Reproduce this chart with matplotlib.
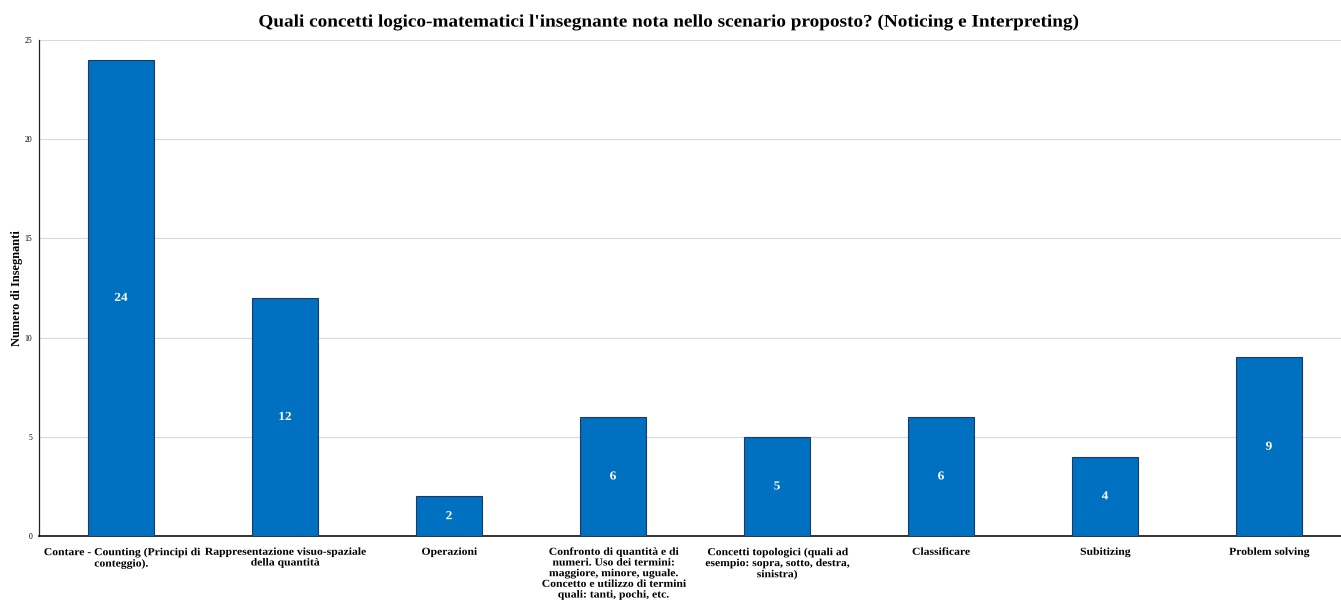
import matplotlib
matplotlib.use("Agg")
import matplotlib.pyplot as plt
from matplotlib.path import Path
from matplotlib.patheffects import AbstractPathEffect
from matplotlib.transforms import Affine2D

categories = [
    "Contare - Counting (Principi di\nconteggio).",
    "Rappresentazione visuo-spaziale\ndella quantità",
    "Operazioni",
    "Confronto di quantità e di\nnumeri. Uso dei termini:\nmaggiore, minore, uguale.\nConcetto e utilizzo di termini\nquali: tanti, pochi, etc.",
    "Concetti topologici (quali ad\nesempio: sopra, sotto, destra,\nsinistra)",
    "Classificare",
    "Subitizing",
    "Problem solving",
]
values = [24, 12, 2, 6, 5, 6, 4, 9]
y_ticks = [0, 5, 10, 15, 20, 25]


class WidenX(AbstractPathEffect):
    """Draw each text line widened horizontally about its own centre."""

    def __init__(self, sx):
        super().__init__()
        self.sx = sx

    def draw_path(self, renderer, gc, tpath, affine, rgbFace=None):
        verts = tpath.vertices
        codes = tpath.codes
        if codes is not None:
            verts = verts[codes != Path.CLOSEPOLY]
        if len(verts):
            pts = affine.transform(verts)
            cx = 0.5 * (pts[:, 0].min() + pts[:, 0].max())
            affine = affine + Affine2D().translate(-cx, 0).scale(self.sx, 1).translate(cx, 0)
        renderer.draw_path(gc, tpath, affine, rgbFace)


widen = [WidenX(1.09)]

plt.rcParams["font.family"] = ["Liberation Serif", "DejaVu Serif"]

fig = plt.figure(figsize=(13.41, 6.04), dpi=100)
ax = fig.add_axes([39 / 1341, 1 - 536 / 604, (1351 - 39) / 1341, (536 - 40) / 604])

x = list(range(len(categories)))
ax.bar(x, values, width=0.4, color="#0070C0", edgecolor="#1F3864",
       linewidth=0.8, zorder=3)

for xi, v in zip(x, values):
    ax.text(xi, v / 2, str(v), ha="center", va="center", color="white",
            fontsize=8.8, fontweight="bold", zorder=4, path_effects=widen)

ax.set_xlim(-0.5, 7.5)
ax.set_ylim(0, 25)
ax.set_yticks(y_ticks)
ax.set_yticklabels([str(t) for t in y_ticks], fontsize=5.5)
ax.set_xticks(x)
ax.set_xticklabels(categories, fontsize=7.7, fontweight="bold", linespacing=1.24)
for lbl in ax.get_xticklabels():
    lbl.set_path_effects(widen)
ax.tick_params(axis="both", length=0)
ax.tick_params(axis="y", pad=5)
ax.tick_params(axis="x", pad=8.5)

ax.yaxis.grid(True, color="#D9D9D9", linewidth=0.8, zorder=0)
ax.set_axisbelow(True)
for side in ("top", "right"):
    ax.spines[side].set_visible(False)
ax.spines["left"].set_color("#222222")
ax.spines["left"].set_linewidth(0.9)
ax.spines["bottom"].set_color("#111111")
ax.spines["bottom"].set_linewidth(1.2)

ax.set_ylabel("Numero di Insegnanti", fontsize=8.9, fontweight="bold")
ax.yaxis.set_label_coords(-16 / 1312, 0.5)

fig.text(669 / 1341, 1 - 22 / 604,
         "Quali concetti logico-matematici l'insegnante nota nello scenario proposto? (Noticing e Interpreting)",
         ha="center", va="center", fontsize=12.7, fontweight="bold", path_effects=widen)

fig.savefig("out.png", dpi=100)
